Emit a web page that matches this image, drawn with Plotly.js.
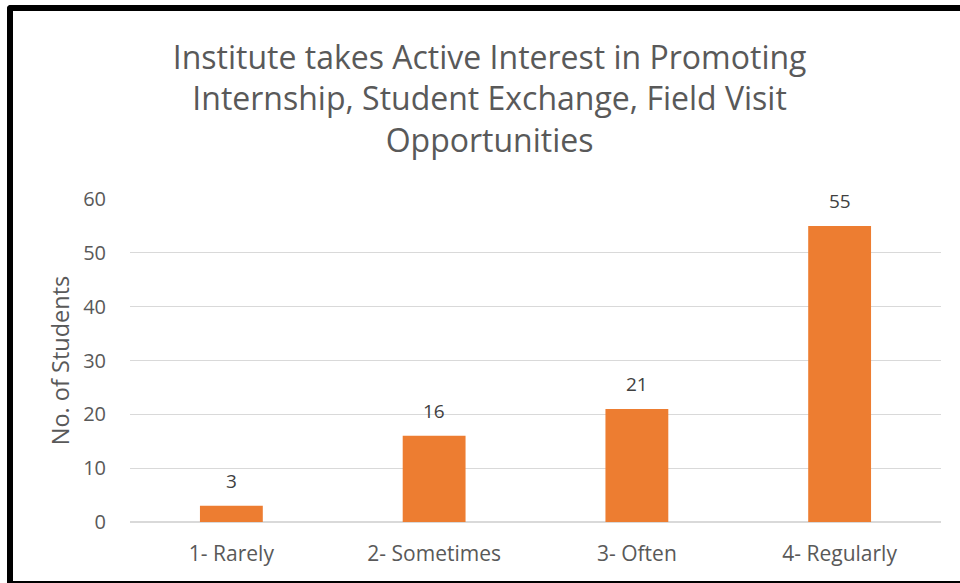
<!DOCTYPE html>
<html>
<head>
<meta charset="utf-8">
<script src="https://cdn.plot.ly/plotly-3.0.1.min.js"></script>
<style>
  html, body { margin: 0; padding: 0; background: #fff; }
  #wrap { position: relative; width: 960px; height: 583px; overflow: hidden; }
  #chart { position: absolute; left: 0; top: 0; width: 960px; height: 583px; }
  #frame { position: absolute; left: 7px; top: 5px; width: 1000px; height: 570px;
           border-left: 6px solid #000; border-top: 6px solid #000; border-bottom: 2px solid #000;
           border-top-left-radius: 4px; pointer-events: none; }
</style>
</head>
<body>
<div id="wrap">
  <div id="chart"></div>
  <div id="frame"></div>
</div>
<script>
const categories = ["1- Rarely", "2- Sometimes", "3- Often", "4- Regularly"];
const students = [3, 16, 21, 55];
const yTicks = [0, 10, 20, 30, 40, 50, 60];

const fontFam = "Open Sans, Liberation Sans, sans-serif";

const trace = {
  type: "bar",
  x: categories,
  y: students,
  marker: { color: "#ED7D31", line: { width: 0 } },
  hoverinfo: "x+y"
};

const labels = categories.map((c, i) => ({
  x: c,
  y: students[i],
  xref: "x",
  yref: "y",
  text: String(students[i]),
  showarrow: false,
  yanchor: "bottom",
  yshift: 10,
  font: { family: fontFam, size: 19, color: "#404040" }
}));

const layout = {
  width: 960,
  height: 583,
  margin: { l: 130, r: 19, t: 199, b: 61 },
  paper_bgcolor: "#ffffff",
  plot_bgcolor: "#ffffff",
  bargap: 0.69,
  showlegend: false,
  annotations: labels,
  title: {
    text: "Institute takes Active Interest in Promoting<br>Internship, Student Exchange, Field Visit<br>Opportunities",
    font: { family: fontFam, size: 32, color: "#595959" },
    x: 0.51, xanchor: "center",
    yref: "container",
    y: 0.882, yanchor: "top"
  },
  xaxis: {
    type: "category",
    tickfont: { family: fontFam, size: 21, color: "#595959" },
    showgrid: false,
    showline: false,
    ticks: "",
    ticklabelstandoff: 17
  },
  yaxis: {
    range: [0, 60],
    tickvals: yTicks,
    ticktext: yTicks.map(String),
    tickfont: { family: fontFam, size: 20, color: "#595959" },
    showgrid: true,
    gridcolor: "#d9d9d9",
    gridwidth: 1.3,
    zeroline: true,
    zerolinecolor: "#d9d9d9",
    zerolinewidth: 1.3,
    showline: false,
    ticks: "",
    ticklabelstandoff: 23,
    title: {
      text: "No. of Students",
      font: { family: fontFam, size: 23.5, color: "#595959" },
      standoff: 6
    }
  }
};

Plotly.newPlot("chart", [trace], layout, { displayModeBar: false, staticPlot: true });
</script>
</body>
</html>
